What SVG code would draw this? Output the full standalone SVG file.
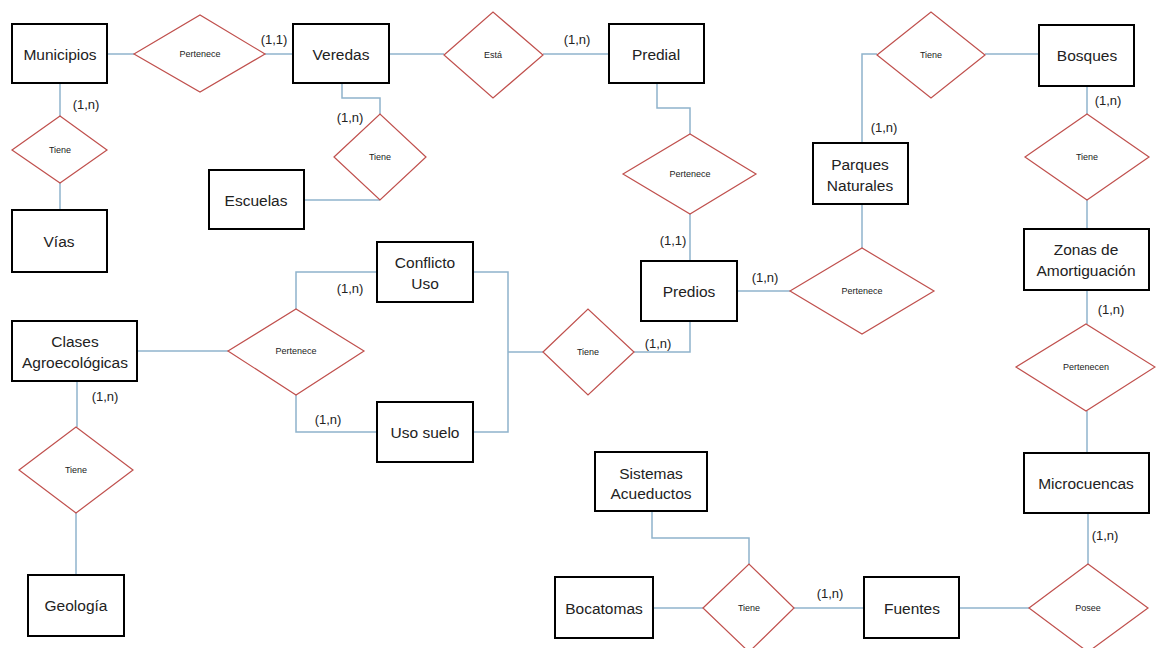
<svg xmlns="http://www.w3.org/2000/svg" width="1156" height="648" viewBox="0 0 1156 648">
<style>
.ent rect{fill:#fff;stroke:#000;stroke-width:2}
.ent text{font-family:"Liberation Sans",Arial,sans-serif;font-size:15.5px;fill:#222;text-anchor:middle;dominant-baseline:central}
.rel polygon{fill:#fff;stroke:#c0504d;stroke-width:1.2}
.rel text{font-family:"Liberation Sans",Arial,sans-serif;font-size:9px;fill:#222;text-anchor:middle;dominant-baseline:central}
#connectors path{fill:none;stroke:#8fb3cc;stroke-width:1.5}
.card{font-family:"Liberation Sans",Arial,sans-serif;font-size:13px;fill:#222;text-anchor:middle;dominant-baseline:central}
</style>
<rect width="1156" height="648" fill="#fff"/>
<g id="connectors">
<path d="M107,54 H134"/>
<path d="M265,54 H293"/>
<path d="M60,83 V116"/>
<path d="M60,183 V210"/>
<path d="M342,83 V98 H380 V114"/>
<path d="M304,200 H380"/>
<path d="M389,54 H444"/>
<path d="M543,54 H609"/>
<path d="M657,83 V108 H690 V134"/>
<path d="M690,214 V261"/>
<path d="M877,54 H862 V143"/>
<path d="M985,54 H1039"/>
<path d="M1087,86 V114"/>
<path d="M1087,200 V229"/>
<path d="M862,204 V248"/>
<path d="M737,291 H790"/>
<path d="M1087,290 V324"/>
<path d="M1087,411 V453"/>
<path d="M137,351 H228"/>
<path d="M296,309 V272 H377"/>
<path d="M296,395 V432 H377"/>
<path d="M77,381 V427"/>
<path d="M76,513 V575"/>
<path d="M473,272 H508 V432 H473"/>
<path d="M508,352 H543"/>
<path d="M634,352 H690 V321"/>
<path d="M652,511 V538 H749 V564"/>
<path d="M653,608 H703"/>
<path d="M794,608 H864"/>
<path d="M959,608 H1029"/>
<path d="M1088,513 V564"/>
</g>
<g id="cardinalities">
<text class="card" x="274" y="39">(1,1)</text>
<text class="card" x="86" y="104">(1,n)</text>
<text class="card" x="350" y="117">(1,n)</text>
<text class="card" x="577" y="39">(1,n)</text>
<text class="card" x="673" y="240">(1,1)</text>
<text class="card" x="884" y="127">(1,n)</text>
<text class="card" x="1108" y="100">(1,n)</text>
<text class="card" x="765" y="277">(1,n)</text>
<text class="card" x="1111" y="309">(1,n)</text>
<text class="card" x="350" y="288">(1,n)</text>
<text class="card" x="328" y="419">(1,n)</text>
<text class="card" x="105" y="396">(1,n)</text>
<text class="card" x="658" y="343">(1,n)</text>
<text class="card" x="830" y="593">(1,n)</text>
<text class="card" x="1105" y="535">(1,n)</text>
</g>
<g id="r-pertenece-mun" class="rel"><polygon points="134,54 200,15 265,54 200,92"/><text x="200" y="54">Pertenece</text></g>
<g id="r-tiene-vias" class="rel"><polygon points="12,150 60,116 107,150 60,183"/><text x="60" y="150">Tiene</text></g>
<g id="r-tiene-esc" class="rel"><polygon points="334,157 380,114 426,157 380,200"/><text x="380" y="157">Tiene</text></g>
<g id="r-esta" class="rel"><polygon points="444,55 493,12 543,55 493,98"/><text x="493" y="55">Está</text></g>
<g id="r-pertenece-pred" class="rel"><polygon points="623,174 690,134 756,174 690,214"/><text x="690" y="174">Pertenece</text></g>
<g id="r-tiene-bosq" class="rel"><polygon points="877,55 931,12 985,55 931,98"/><text x="931" y="55">Tiene</text></g>
<g id="r-tiene-zonas" class="rel"><polygon points="1025,157 1087,114 1149,157 1087,200"/><text x="1087" y="157">Tiene</text></g>
<g id="r-pertenece-parq" class="rel"><polygon points="790,291 862,248 934,291 862,334"/><text x="862" y="291">Pertenece</text></g>
<g id="r-pertenecen" class="rel"><polygon points="1016,367 1086,324 1155,367 1086,411"/><text x="1086" y="367">Pertenecen</text></g>
<g id="r-pertenece-clases" class="rel"><polygon points="228,351 296,309 364,351 296,395"/><text x="296" y="351">Pertenece</text></g>
<g id="r-tiene-geo" class="rel"><polygon points="19,470 76,427 133,470 76,513"/><text x="76" y="470">Tiene</text></g>
<g id="r-tiene-uso" class="rel"><polygon points="543,352 588,309 634,352 588,395"/><text x="588" y="352">Tiene</text></g>
<g id="r-tiene-fuentes" class="rel"><polygon points="703,608 749,564 794,608 749,652"/><text x="749" y="608">Tiene</text></g>
<g id="r-posee" class="rel"><polygon points="1029,608 1088,564 1148,608 1088,652"/><text x="1088" y="608">Posee</text></g>
<g id="municipios" class="ent"><rect x="12" y="24" width="95" height="59"/><text x="60" y="54">Municipios</text></g>
<g id="veredas" class="ent"><rect x="293" y="24" width="96" height="59"/><text x="341" y="54">Veredas</text></g>
<g id="predial" class="ent"><rect x="609" y="24" width="95" height="59"/><text x="656" y="54">Predial</text></g>
<g id="bosques" class="ent"><rect x="1039" y="25" width="95" height="61"/><text x="1087" y="55">Bosques</text></g>
<g id="vias" class="ent"><rect x="12" y="210" width="95" height="62"/><text x="59" y="241">Vías</text></g>
<g id="escuelas" class="ent"><rect x="209" y="170" width="95" height="59"/><text x="256" y="200">Escuelas</text></g>
<g id="parques" class="ent"><rect x="813" y="143" width="95" height="61"/><text x="860" y="164">Parques</text><text x="860" y="185">Naturales</text></g>
<g id="zonas" class="ent"><rect x="1024" y="229" width="125" height="61"/><text x="1086" y="249">Zonas de</text><text x="1086" y="270">Amortiguación</text></g>
<g id="conflicto" class="ent"><rect x="377" y="242" width="96" height="60"/><text x="425" y="262">Conflicto</text><text x="425" y="283">Uso</text></g>
<g id="predios" class="ent"><rect x="641" y="261" width="96" height="60"/><text x="689" y="291">Predios</text></g>
<g id="clases" class="ent"><rect x="12" y="321" width="125" height="60"/><text x="75" y="341">Clases</text><text x="75" y="362">Agroecológicas</text></g>
<g id="usosuelo" class="ent"><rect x="377" y="402" width="96" height="60"/><text x="425" y="432">Uso suelo</text></g>
<g id="microcuencas" class="ent"><rect x="1024" y="453" width="125" height="60"/><text x="1086" y="483">Microcuencas</text></g>
<g id="sistemas" class="ent"><rect x="595" y="452" width="112" height="59"/><text x="651" y="473">Sistemas</text><text x="651" y="493">Acueductos</text></g>
<g id="geologia" class="ent"><rect x="28" y="575" width="96" height="61"/><text x="76" y="605">Geología</text></g>
<g id="bocatomas" class="ent"><rect x="555" y="577" width="98" height="61"/><text x="604" y="608">Bocatomas</text></g>
<g id="fuentes" class="ent"><rect x="864" y="577" width="95" height="61"/><text x="912" y="608">Fuentes</text></g>
</svg>
